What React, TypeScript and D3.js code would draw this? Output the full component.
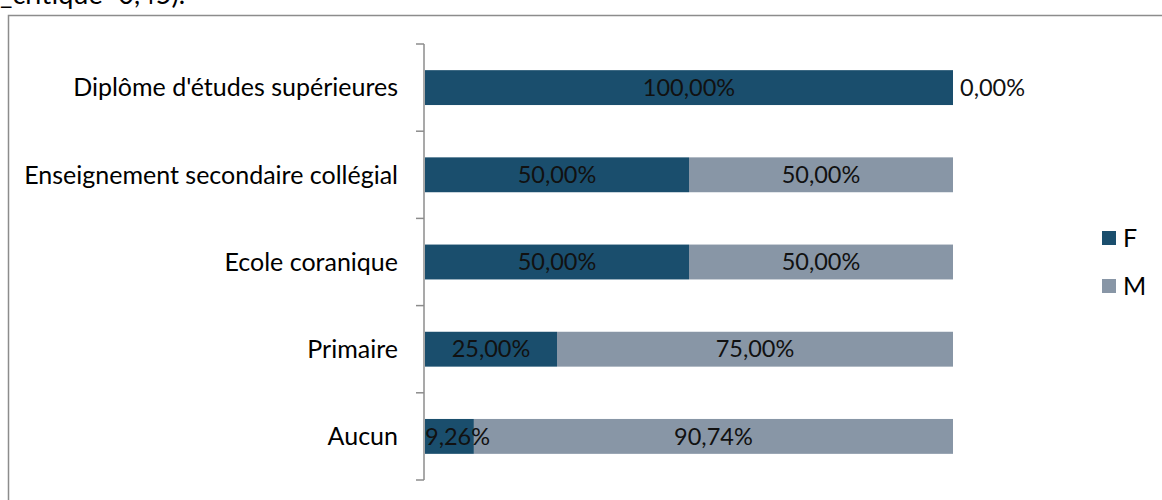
import React from "react";
import * as d3 from "d3";

const categories = [
  "Diplôme d'études supérieures",
  "Enseignement secondaire collégial",
  "Ecole coranique",
  "Primaire",
  "Aucun",
];
const valuesF = [100.0, 50.0, 50.0, 25.0, 9.26];
const valuesM = [0.0, 50.0, 50.0, 75.0, 90.74];
const seriesNames = ["F", "M"];
const colors = ["#1a4e6d", "#8896a6"];

const W = 1162;
const H = 500;
const FONT = "Lato, 'Open Sans', sans-serif";

function fmt(v: number) {
  return v.toFixed(2).replace(".", ",") + "%";
}

export default function App() {
  const y = d3
    .scaleBand<string>()
    .domain(categories)
    .range([44, 480])
    .paddingInner(0.6)
    .paddingOuter(0.3);
  const x = d3.scaleLinear().domain([0, 100]).range([425, 953]);
  const step = y.step();
  const tickYs = d3.range(categories.length + 1).map((i) => 44 + i * step);
  const numSize = 23.5;
  const catSize = 25;

  return (
    <svg
      width={W}
      height={H}
      style={{ position: "absolute", left: 0, top: 0, background: "#fff" }}
      fontFamily={FONT}
    >
      <text x={0} y={4} fontSize={27} fill="#000">
        _critique=0,45).
      </text>
      <rect x={8.5} y={15.5} width={W + 20} height={H + 20} fill="none" stroke="#8c8c8c" strokeWidth={1.5} />
      {categories.map((c, i) => {
        const y0 = y(c)!;
        const bh = y.bandwidth();
        const f = valuesF[i];
        const m = valuesM[i];
        return (
          <g key={c}>
            <rect x={x(0)} y={y0} width={x(f) - x(0)} height={bh} fill={colors[0]} />
            <rect x={x(f)} y={y0} width={x(f + m) - x(f)} height={bh} fill={colors[1]} />
            <text x={398} y={y0 + bh / 2} dy="0.35em" textAnchor="end" fontSize={catSize} fill="#000">
              {c}
            </text>
            <text
              x={f < 15 ? x(0) : (x(0) + x(f)) / 2}
              y={y0 + bh / 2}
              dy="0.35em"
              textAnchor={f < 15 ? "start" : "middle"}
              fontSize={numSize}
              fill="#111"
            >
              {fmt(f)}
            </text>
            {m > 0 ? (
              <text x={(x(f) + x(f + m)) / 2} y={y0 + bh / 2} dy="0.35em" textAnchor="middle" fontSize={numSize} fill="#111">
                {fmt(m)}
              </text>
            ) : (
              <text x={x(f) + 7} y={y0 + bh / 2} dy="0.35em" textAnchor="start" fontSize={numSize} fill="#111">
                {fmt(m)}
              </text>
            )}
          </g>
        );
      })}
      <line x1={424} x2={424} y1={44} y2={480} stroke="#8c8c8c" strokeWidth={1.5} />
      {tickYs.map((t, i) => (
        <line key={i} x1={416} x2={424} y1={t} y2={t} stroke="#8c8c8c" strokeWidth={1.5} />
      ))}
      {seriesNames.map((s, i) => (
        <g key={s}>
          <rect x={1102} y={231 + i * 48} width={14} height={14} fill={colors[i]} />
          <text x={1123} y={238 + i * 48} dy="0.35em" fontSize={catSize} fill="#000">
            {s}
          </text>
        </g>
      ))}
    </svg>
  );
}
